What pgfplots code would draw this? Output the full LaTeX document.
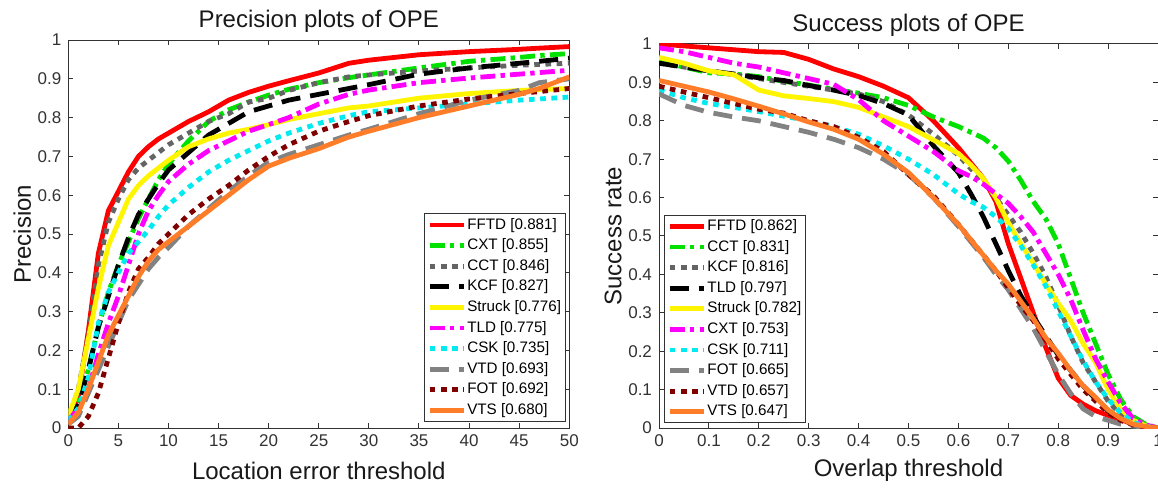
\documentclass[border=0pt]{standalone}
\usepackage{fontspec}
\setmainfont{Liberation Sans}
\usepackage{pgfplots}
\pgfplotsset{compat=1.18}
\usepackage{pgfplotstable}

\definecolor{cRed}{RGB}{255,0,0}
\definecolor{cGreen}{RGB}{0,225,0}
\definecolor{cDGray}{RGB}{100,100,100}
\definecolor{cYellow}{RGB}{255,245,0}
\definecolor{cMagenta}{RGB}{255,0,255}
\definecolor{cCyan}{RGB}{0,235,240}
\definecolor{cLGray}{RGB}{130,130,130}
\definecolor{cDRed}{RGB}{128,0,0}
\definecolor{cOrange}{RGB}{255,125,40}
\definecolor{cAxis}{RGB}{50,50,50}

\pgfplotstableread{
x   FFTD  CXT   CCT   KCF   Struck TLD   CSK   VTD   FOT   VTS
0   0.02  0.02  0.02  0.02  0.03   0.02  0.02  0.01  0.00  0.01
1   0.08  0.07  0.10  0.06  0.10   0.05  0.05  0.03  0.00  0.04
2   0.25  0.15  0.24  0.15  0.23   0.10  0.13  0.09  0.03  0.10
3   0.45  0.26  0.42  0.26  0.36   0.19  0.27  0.15  0.09  0.17
4   0.56  0.35  0.53  0.34  0.47   0.27  0.35  0.21  0.18  0.24
5   0.61  0.42  0.59  0.42  0.53   0.34  0.40  0.27  0.27  0.29
6   0.66  0.48  0.64  0.49  0.59   0.42  0.45  0.33  0.35  0.34
7   0.70  0.54  0.67  0.55  0.625  0.50  0.48  0.37  0.41  0.39
8   0.725 0.59  0.69  0.59  0.65   0.56  0.51  0.41  0.44  0.43
9   0.745 0.64  0.71  0.63  0.67   0.60  0.545 0.44  0.475 0.46
10  0.76  0.68  0.73  0.665 0.69   0.635 0.575 0.465 0.50  0.48
12  0.79  0.74  0.76  0.71  0.725  0.68  0.62  0.52  0.55  0.52
14  0.815 0.79  0.79  0.755 0.745  0.715 0.66  0.565 0.59  0.56
16  0.845 0.82  0.81  0.785 0.76   0.74  0.69  0.61  0.625 0.60
18  0.865 0.84  0.84  0.815 0.77   0.765 0.715 0.65  0.665 0.64
20  0.881 0.858 0.85  0.83  0.782  0.782 0.74  0.685 0.70  0.675
22  0.895 0.873 0.87  0.845 0.795  0.80  0.76  0.705 0.73  0.695
25  0.915 0.89  0.89  0.86  0.81   0.835 0.785 0.73  0.765 0.72
28  0.94  0.903 0.905 0.875 0.825  0.86  0.805 0.755 0.79  0.75
30  0.948 0.91  0.91  0.885 0.83   0.871 0.815 0.77  0.805 0.765
35  0.962 0.928 0.92  0.912 0.85   0.89  0.825 0.81  0.83  0.80
40  0.97  0.945 0.928 0.928 0.862  0.902 0.835 0.845 0.848 0.83
45  0.976 0.955 0.935 0.94  0.87   0.912 0.845 0.87  0.862 0.86
47  0.979 0.96  0.937 0.945 0.872  0.916 0.848 0.89  0.867 0.875
50  0.983 0.965 0.94  0.953 0.875  0.922 0.853 0.90  0.875 0.905
}\precdata

\pgfplotstableread{
x     FFTD  CCT   KCF   TLD   Struck CXT   CSK   FOT   VTD   VTS
0     1.0   0.955 0.95  0.95  0.965  0.99  0.88  0.87  0.89  0.905
0.05  0.995 0.94  0.94  0.94  0.95   0.98  0.86  0.84  0.875 0.89
0.1   0.99  0.925 0.93  0.93  0.93   0.965 0.845 0.822 0.86  0.875
0.15  0.985 0.922 0.92  0.922 0.92   0.95  0.835 0.81  0.845 0.857
0.2   0.98  0.915 0.91  0.912 0.88   0.94  0.824 0.80  0.83  0.838
0.25  0.978 0.903 0.90  0.905 0.865  0.925 0.812 0.785 0.82  0.818
0.3   0.96  0.893 0.89  0.892 0.858  0.91  0.80  0.77  0.80  0.797
0.35  0.935 0.882 0.88  0.88  0.85   0.895 0.785 0.752 0.785 0.778
0.4   0.915 0.872 0.87  0.866 0.835  0.855 0.765 0.73  0.757 0.752
0.45  0.89  0.86  0.85  0.845 0.81   0.80  0.735 0.70  0.72  0.713
0.5   0.86  0.84  0.815 0.815 0.785  0.76  0.70  0.66  0.66  0.665
0.55  0.80  0.81  0.765 0.735 0.75   0.72  0.66  0.60  0.605 0.60
0.6   0.73  0.785 0.71  0.665 0.715  0.67  0.61  0.525 0.53  0.53
0.625 0.69  0.77  0.675 0.61  0.685  0.655 0.59  0.485 0.49  0.49
0.65  0.65  0.755 0.64  0.55  0.65   0.635 0.575 0.445 0.45  0.45
0.675 0.59  0.73  0.60  0.48  0.60   0.61  0.55  0.40  0.41  0.41
0.7   0.48  0.695 0.555 0.41  0.535  0.585 0.52  0.36  0.365 0.375
0.725 0.39  0.645 0.51  0.345 0.48   0.55  0.475 0.31  0.32  0.33
0.75  0.30  0.59  0.455 0.29  0.43   0.51  0.425 0.26  0.28  0.285
0.775 0.21  0.545 0.395 0.24  0.375  0.455 0.37  0.20  0.23  0.235
0.8   0.13  0.48  0.32  0.19  0.325  0.40  0.305 0.14  0.18  0.195
0.825 0.085 0.39  0.24  0.15  0.28   0.335 0.24  0.09  0.14  0.15
0.85  0.062 0.30  0.17  0.11  0.22   0.255 0.175 0.05  0.10  0.11
0.875 0.045 0.22  0.12  0.075 0.17   0.18  0.12  0.03  0.07  0.08
0.9   0.033 0.14  0.07  0.045 0.10   0.12  0.075 0.02  0.04  0.047
0.925 0.022 0.075 0.035 0.025 0.05   0.065 0.04  0.01  0.02  0.025
0.95  0.01  0.03  0.012 0.01  0.02   0.025 0.015 0.005 0.008 0.01
0.975 0.004 0.01  0.004 0.004 0.006  0.008 0.005 0.002 0.003 0.004
1     0     0     0     0     0      0     0     0     0     0
}\succdata

\pgfplotsset{
  s1/.style={color=cRed, solid, line width=2.4pt},
  s2/.style={color=cGreen, line width=2.4pt, dash pattern=on 7.5pt off 2.6pt on 2.2pt off 2.6pt},
  s3/.style={color=cDGray, line width=2.4pt, dash pattern=on 2.8pt off 2.8pt},
  s4/.style={color=black, line width=2.4pt, dash pattern=on 9.5pt off 5pt},
  s5/.style={color=cYellow, solid, line width=2.4pt},
  s6/.style={color=cMagenta, line width=2.4pt, dash pattern=on 7.5pt off 2.6pt on 2.2pt off 2.6pt},
  s7/.style={color=cCyan, line width=2.4pt, dash pattern=on 2.8pt off 2.8pt},
  s8/.style={color=cLGray, line width=2.4pt, dash pattern=on 9.5pt off 5pt},
  s9/.style={color=cDRed, line width=2.4pt, dash pattern=on 2.8pt off 2.8pt},
  s10/.style={color=cOrange, solid, line width=2.4pt},
  mstyle/.style={
    scale only axis,
    axis line style={cAxis, line width=0.5pt},
    tick style={cAxis, line width=0.5pt},
    major tick length=2.5pt,
    tick align=inside,
    xtick pos=both, ytick pos=both,
    xticklabel pos=lower, yticklabel pos=left,
    tick label style={font=\fontsize{8.5}{10}\selectfont, text=cAxis},
    every axis title/.style={at={(axis description cs:0.5,1.049)}, anchor=center, font=\fontsize{12}{14}\selectfont, text=black!90},
    every axis x label/.style={at={(axis description cs:0.5,-0.111)}, anchor=center, font=\fontsize{12}{14}\selectfont, text=black!90},
    every axis y label/.style={at={(axis description cs:-0.092,0.5)}, rotate=90, anchor=center, font=\fontsize{12}{14}\selectfont, text=black!90},
    legend cell align=left,
    legend style={font=\fontsize{7.6}{9}\selectfont, draw=cAxis, line width=0.5pt, fill=white,
      inner xsep=1.5pt, inner ysep=1.2pt, row sep=1.6pt,
      nodes={inner sep=0.6pt, text height=5.8pt, text depth=1.7pt}},
    legend image code/.code={\draw[#1] (0pt,0pt) -- (17pt,0pt);},
    every axis plot/.append style={line join=round},
    ymin=0, ymax=1,
    ytick={0,0.1,0.2,0.3,0.4,0.5,0.6,0.7,0.8,0.9,1},
    yticklabels={0,0.1,0.2,0.3,0.4,0.5,0.6,0.7,0.8,0.9,1},
  }
}

\begin{document}
\begin{tikzpicture}
\path[use as bounding box] (0,0) rectangle (579pt,244pt);
\begin{axis}[mstyle,
  at={(34.15pt,30pt)}, anchor=south west,
  width=250.5pt, height=194pt,
  xmin=0, xmax=50,
  xtick={0,5,10,15,20,25,30,35,40,45,50},
  xticklabels={0,5,10,15,20,25,30,35,40,45,50},
  title={Precision plots of OPE},
  xlabel={Location error threshold},
  ylabel={Precision},
  legend style={at={(axis description cs:0.993,0.0155)}, anchor=south east},
]
\addplot[s1] table[x=x,y=FFTD]{\precdata};
\addlegendentry{FFTD [0.881]}
\addplot[s2] table[x=x,y=CXT]{\precdata};
\addlegendentry{CXT [0.855]}
\addplot[s3] table[x=x,y=CCT]{\precdata};
\addlegendentry{CCT [0.846]}
\addplot[s4] table[x=x,y=KCF]{\precdata};
\addlegendentry{KCF [0.827]}
\addplot[s5] table[x=x,y=Struck]{\precdata};
\addlegendentry{Struck [0.776]}
\addplot[s6] table[x=x,y=TLD]{\precdata};
\addlegendentry{TLD [0.775]}
\addplot[s7] table[x=x,y=CSK]{\precdata};
\addlegendentry{CSK [0.735]}
\addplot[s8] table[x=x,y=VTD]{\precdata};
\addlegendentry{VTD [0.693]}
\addplot[s9] table[x=x,y=FOT]{\precdata};
\addlegendentry{FOT [0.692]}
\addplot[s10] table[x=x,y=VTS]{\precdata};
\addlegendentry{VTS [0.680]}
\end{axis}

\begin{axis}[mstyle,
  at={(329.5pt,30pt)}, anchor=south west,
  width=249.5pt, height=192pt,
  xmin=0, xmax=1,
  xtick={0,0.1,0.2,0.3,0.4,0.5,0.6,0.7,0.8,0.9,1},
  xticklabels={0,0.1,0.2,0.3,0.4,0.5,0.6,0.7,0.8,0.9,1},
  title={Success plots of OPE},
  xlabel={Overlap threshold},
  ylabel={Success rate},
  legend style={at={(axis description cs:0.01,0.012)}, anchor=south west},
]
\addplot[s1] table[x=x,y=FFTD]{\succdata};
\addlegendentry{FFTD [0.862]}
\addplot[s2] table[x=x,y=CCT]{\succdata};
\addlegendentry{CCT [0.831]}
\addplot[s3] table[x=x,y=KCF]{\succdata};
\addlegendentry{KCF [0.816]}
\addplot[s4] table[x=x,y=TLD]{\succdata};
\addlegendentry{TLD [0.797]}
\addplot[s5] table[x=x,y=Struck]{\succdata};
\addlegendentry{Struck [0.782]}
\addplot[s6] table[x=x,y=CXT]{\succdata};
\addlegendentry{CXT [0.753]}
\addplot[s7] table[x=x,y=CSK]{\succdata};
\addlegendentry{CSK [0.711]}
\addplot[s8] table[x=x,y=FOT]{\succdata};
\addlegendentry{FOT [0.665]}
\addplot[s9] table[x=x,y=VTD]{\succdata};
\addlegendentry{VTD [0.657]}
\addplot[s10] table[x=x,y=VTS]{\succdata};
\addlegendentry{VTS [0.647]}
\end{axis}
\end{tikzpicture}
\end{document}
